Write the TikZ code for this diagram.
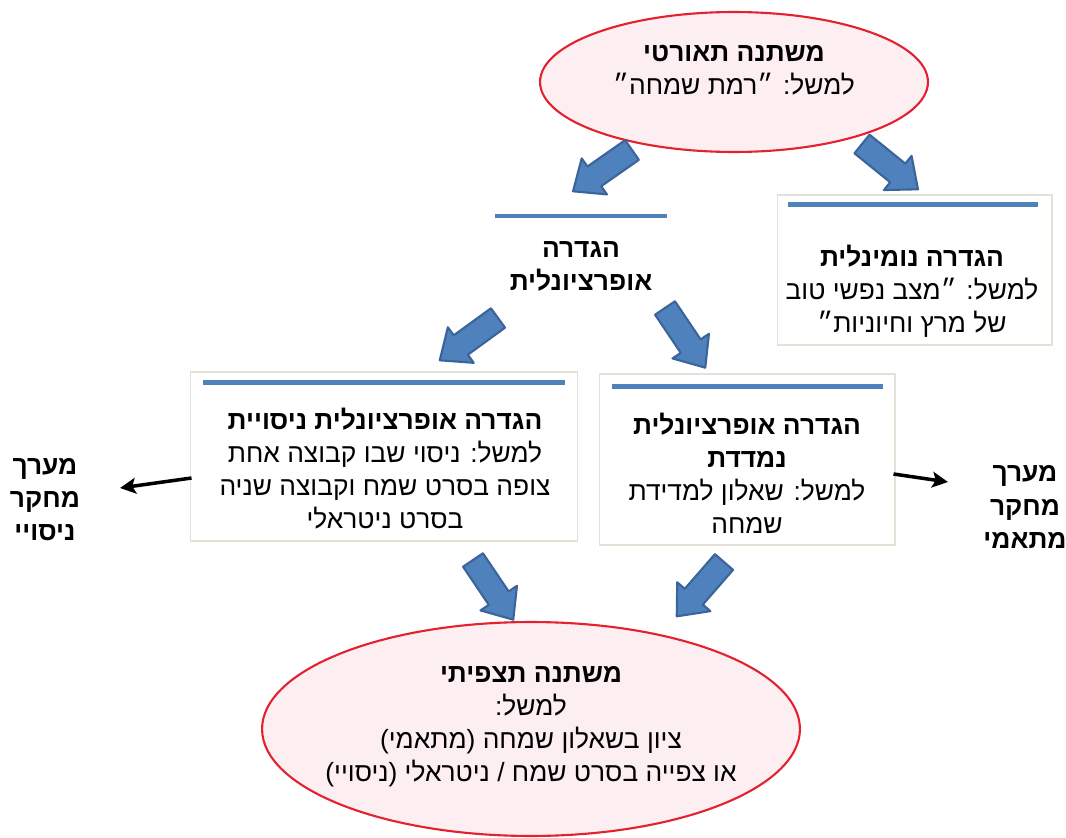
\documentclass[tikz,border=0pt]{standalone}
\usepackage{fontspec}
\newfontfamily\hebfont[Script=Hebrew]{Liberation Sans}
\TeXXeTstate=1
\usetikzlibrary{positioning, calc, arrows.meta, shapes.geometric}
\definecolor{ellfill}{HTML}{FCEEF1}
\definecolor{ellline}{HTML}{E3212F}
\definecolor{barblue}{HTML}{4F81BD}
\definecolor{arrline}{HTML}{3A659A}
\definecolor{boxline}{HTML}{E4E2D6}
\newcommand{\rl}[1]{\beginR #1\endR}
\newcommand{\rlb}[1]{{\bfseries\beginR #1\endR}}
\tikzset{
  ell/.style = {ellipse, draw=ellline, fill=ellfill, line width=1.2pt, inner sep=0pt},
  defbox/.style = {rectangle, draw=boxline, fill=white, line width=0.6pt, inner sep=0pt},
  bar/.style = {draw=barblue, line width=2.3pt},
  txt/.style = {align=center, font=\hebfont\fontsize{15}{18.8}\selectfont, inner sep=0pt},
  sidearrow/.style = {-{Stealth[length=9pt, width=9pt, inset=2pt]}, line width=2pt},
  blockarrow/.pic = {
    \draw[fill=barblue, draw=arrline, line width=1.2pt, line join=round]
      (0,-12) -- (46,-12) -- (46,-22) -- (72,0) -- (46,22) -- (46,12) -- (0,12) -- cycle;
  }
}

\begin{document}
\begin{tikzpicture}[x=0.02cm, y=-0.02cm]
  \useasboundingbox (0,0) rectangle (1066,838);

  % theoretical variable
  \node [ell, minimum width=7.76cm, minimum height=2.8cm] (theo) at (734, 82) {};
  \node [txt] (theotxt) at (734, 70) {\rlb{משתנה תאורטי}\\ \rl{למשל: ״רמת שמחה״}};

  % nominal definition
  \node [defbox, minimum width=5.5cm, minimum height=3cm] (nombox) at (914.5, 270) {};
  \draw [bar] ($(nombox.north west)+(11,10)$) -- ($(nombox.north east)+(-15,10)$);
  \node [txt] (nomtxt) at (912, 291) {\rlb{הגדרה נומינלית}\\ \rl{למשל: ״מצב נפשי טוב}\\ \rl{של מרץ וחיוניות״}};

  % operational definition
  \node [txt] (optxt) at (581, 266.5) {\rlb{הגדרה}\\ \rlb{אופרציונלית}};
  \draw [bar] (495, 216) -- (667, 216);

  % experimental / measured
  \node [defbox, minimum width=7.76cm, minimum height=3.38cm] (expbox) at (384, 456.5) {};
  \draw [bar] ($(expbox.north west)+(13,11)$) -- ($(expbox.north east)+(-13,11)$);
  \node [txt] (exptxt) at (385, 469) {\rlb{הגדרה אופרציונלית ניסויית}\\ \rl{למשל: ניסוי שבו קבוצה אחת}\\ \rl{צופה בסרט שמח וקבוצה שניה}\\ \rl{בסרט ניטראלי}};

  \node [defbox, minimum width=5.92cm, minimum height=3.42cm] (mesbox) at (747, 459.5) {};
  \draw [bar] ($(mesbox.north west)+(13,13)$) -- ($(mesbox.north east)+(-13,13)$);
  \node [txt] (mestxt) at (747, 473) {\rlb{הגדרה אופרציונלית}\\ \rlb{נמדדת}\\ \rl{למשל: שאלון למדידת}\\ \rl{שמחה}};

  % research designs
  \node [txt] (explab) at (45, 500) {\rlb{מערך}\\ \rlb{מחקר}\\ \rlb{ניסויי}};
  \node [txt] (corlab) at (1025, 507) {\rlb{מערך}\\ \rlb{מחקר}\\ \rlb{מתאמי}};
  \coordinate (expend) at (120, 488);
  \coordinate (corend) at (948, 482);
  \draw [sidearrow] ($(expbox.west)+(2,21.5)$) -- (expend);
  \draw [sidearrow] ($(mesbox.east)+(-2,14.5)$) -- (corend);

  % observed variable
  \node [ell, minimum width=10.76cm, minimum height=4.28cm] (obs) at (531, 729) {};
  \node [txt] (obstxt) at (531, 727) {\rlb{משתנה תצפיתי}\\ \rl{למשל:}\\ \rl{ציון בשאלון שמחה (מתאמי)}\\ \rl{או צפייה בסרט שמח / ניטראלי (ניסויי)}};

  % block arrows
  \pic [rotate=215]  at (632, 150) {blockarrow};
  \pic [rotate=-39]  at (862, 144) {blockarrow};
  \pic [rotate=216]  at (498, 318) {blockarrow};
  \pic [rotate=-56]  at (665, 308) {blockarrow};
  \pic [rotate=-56]  at (473, 560) {blockarrow};
  \pic [rotate=-131] at (724, 562) {blockarrow};
\end{tikzpicture}
\end{document}
